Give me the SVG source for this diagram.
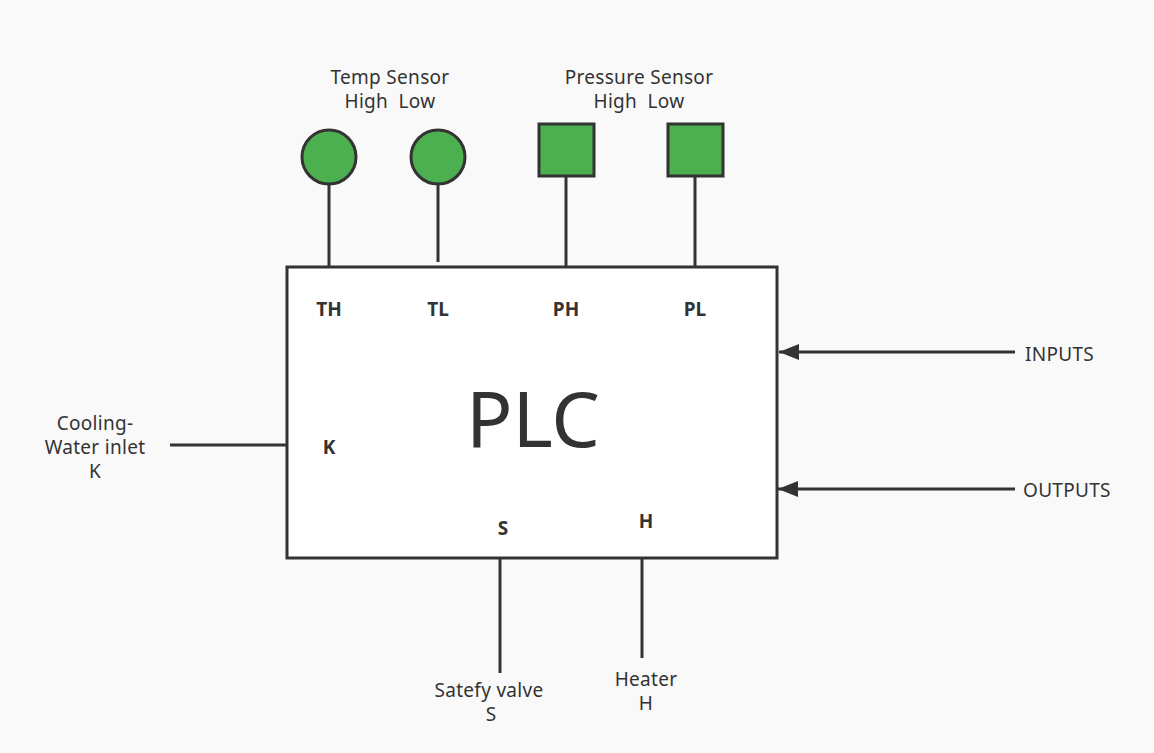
<svg xmlns="http://www.w3.org/2000/svg" width="1154" height="753" viewBox="0 0 1154 753">
<style>
text{font-family:"Noto Sans","Open Sans","Liberation Sans",sans-serif;fill:#333;text-anchor:middle;white-space:pre}
.lbl{font-size:19px;letter-spacing:0.3px}
.pin{font-size:19px;font-weight:bold}
.ln{stroke:#333;stroke-width:3;fill:none}
.sensor{fill:#4caf50;stroke:#333;stroke-width:3}
</style>
<defs>
<marker id="arr" markerWidth="22" markerHeight="16" refX="20" refY="8" orient="auto" markerUnits="userSpaceOnUse">
<path d="M0,0 L20,8 L0,16 Z" fill="#333"/>
</marker>
</defs>
<rect width="1154" height="753" fill="#f9f9f9"/>
<g id="plc">
<rect x="287" y="267" width="490" height="291" fill="#fff" stroke="#333" stroke-width="3"/>
<text x="533" y="447" font-size="77">PLC</text>
<text class="pin" x="329" y="316">TH</text>
<text class="pin" x="438" y="316">TL</text>
<text class="pin" x="566" y="316">PH</text>
<text class="pin" x="695" y="316">PL</text>
<text class="pin" x="329" y="454">K</text>
<text class="pin" x="503" y="535">S</text>
<text class="pin" x="646" y="528">H</text>
</g>
<g id="connectors">
<line class="ln" x1="329" y1="184" x2="329" y2="267"/>
<line class="ln" x1="438" y1="184" x2="438" y2="262"/>
<line class="ln" x1="566" y1="176" x2="566" y2="267"/>
<line class="ln" x1="695" y1="176" x2="695" y2="267"/>
<line class="ln" x1="170" y1="445" x2="287" y2="445"/>
<line class="ln" x1="500" y1="558" x2="500" y2="673"/>
<line class="ln" x1="642" y1="558" x2="642" y2="658"/>
<line class="ln" x1="1015" y1="352" x2="779" y2="352" marker-end="url(#arr)"/>
<line class="ln" x1="1015" y1="489" x2="778" y2="489" marker-end="url(#arr)"/>
</g>
<g id="temp-sensor">
<text class="lbl" x="390" y="84">Temp Sensor</text>
<text class="lbl" x="390" y="108">High  Low</text>
</g>
<g id="sensor-th"><circle class="sensor" cx="329" cy="157" r="27"/></g>
<g id="sensor-tl"><circle class="sensor" cx="438" cy="157" r="27"/></g>
<g id="pressure-sensor">
<text class="lbl" x="639" y="84">Pressure Sensor</text>
<text class="lbl" x="639" y="108">High  Low</text>
</g>
<g id="sensor-ph"><rect class="sensor" x="539" y="124" width="55" height="52"/></g>
<g id="sensor-pl"><rect class="sensor" x="668" y="124" width="55" height="52"/></g>
<g id="cooling">
<text class="lbl" x="95" y="430">Cooling-</text>
<text class="lbl" x="95" y="454">Water inlet</text>
<text class="lbl" x="95" y="478">K</text>
</g>
<g id="inputs"><text class="lbl" x="1025" y="361" style="text-anchor:start">INPUTS</text></g>
<g id="outputs"><text class="lbl" x="1023" y="497" style="text-anchor:start">OUTPUTS</text></g>
<g id="safety-valve">
<text class="lbl" x="489" y="697">Satefy valve</text>
<text class="lbl" x="491" y="721">S</text>
</g>
<g id="heater">
<text class="lbl" x="646" y="686">Heater</text>
<text class="lbl" x="646" y="710">H</text>
</g>
</svg>
